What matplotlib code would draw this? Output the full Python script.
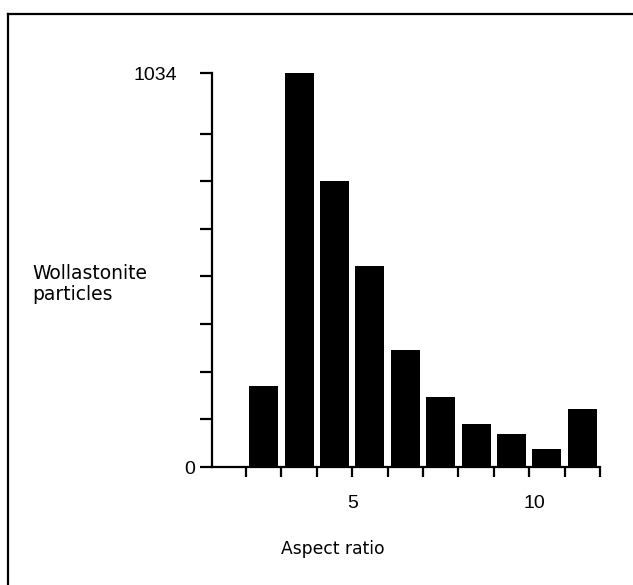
import matplotlib
matplotlib.use('Agg')
import matplotlib.pyplot as plt
import matplotlib.transforms as mtransforms
from matplotlib.lines import Line2D

# Data
binCentres = [2.5, 3.5, 4.5, 5.5, 6.5, 7.5, 8.5, 9.5, 10.5, 11.5]
particleCounts = [213, 1034, 750, 528, 308, 184, 113, 87, 47, 153]
xTicks = [2, 3, 4, 5, 6, 7, 8, 9, 10, 11, 12]
xTickLabels = ['', '', '', '5', '', '', '', '', '10', '', '']
yTicks = [0, 125, 250, 375, 500, 625, 750, 875, 1034]
yTickLabels = ['0', '', '', '', '', '', '', '', '1034']

plt.rcParams['font.family'] = ['Liberation Sans', 'DejaVu Sans']
tickFontSize = 14
wordFont = ['DejaVu Sans']

fig = plt.figure(figsize=(6.33, 5.85), dpi=100)
W, H = 633, 585
ax = fig.add_axes([212 / W, 1 - 467 / H, (600 - 212) / W, (467 - 73) / H])

ax.bar(binCentres, particleCounts, width=0.82, color='black', clip_on=False)
ax.set_xlim(1.04, 12)
ax.set_ylim(0, 1034)

ax.spines['right'].set_visible(False)
ax.spines['top'].set_visible(False)
for s in ['left', 'bottom']:
    ax.spines[s].set_linewidth(1.6)

ax.set_xticks(xTicks)
ax.set_xticklabels(xTickLabels)
ax.set_yticks(yTicks)
ax.set_yticklabels(yTickLabels)
ax.tick_params(axis='x', direction='out', length=7, width=1.6, pad=13, labelsize=tickFontSize)
ax.tick_params(axis='y', direction='out', length=9, width=1.6, pad=3, labelsize=tickFontSize)
ax.yaxis.get_major_ticks()[-1].set_pad(16)

# the "10" sits a little right of its tick in the original
lbl10 = ax.xaxis.get_major_ticks()[8].label1
lbl10.set_transform(lbl10.get_transform() +
                    mtransforms.ScaledTranslation(5 / 100, 0, fig.dpi_scale_trans))

fig.text(32 / W, 1 - 284 / H, 'Wollastonite\nparticles', fontsize=13.5, family=wordFont,
         ha='left', va='center', linespacing=1.1)
fig.text(333 / W, 1 - 549 / H, 'Aspect ratio', fontsize=12.3, family=wordFont,
         ha='center', va='center')

# Outer frame (top and left edges)
fig.add_artist(Line2D([8 / W, 8 / W], [0, 1 - 14 / H], color='black', lw=1.6,
                      transform=fig.transFigure))
fig.add_artist(Line2D([8 / W, 1], [1 - 14 / H, 1 - 14 / H], color='black', lw=1.6,
                      transform=fig.transFigure))

fig.savefig('out.png', dpi=100)
